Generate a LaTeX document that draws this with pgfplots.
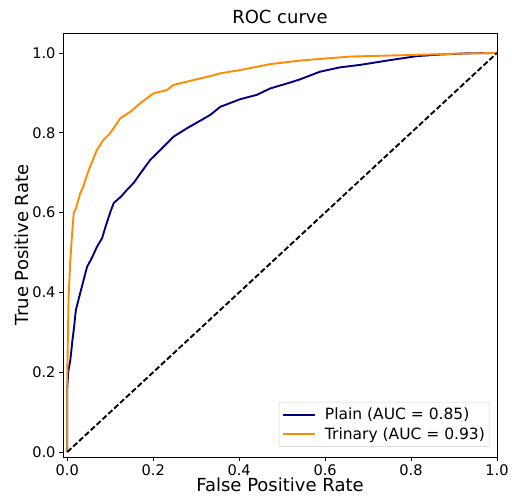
\documentclass[border=0pt]{standalone}
\usepackage{fontspec}
\setmainfont{DejaVu Sans}
\usepackage{pgfplots}
\pgfplotsset{compat=1.18}
\definecolor{navyc}{RGB}{0,0,128}
\definecolor{darkorangec}{RGB}{255,140,0}
\begin{document}
\begin{tikzpicture}
\begin{axis}[
  scale only axis,
  width=434bp, height=424bp,
  xmin=-0.01, xmax=1.0,
  ymin=-0.0125, ymax=1.05,
  xtick={0,0.2,0.4,0.6,0.8,1.0},
  ytick={0,0.2,0.4,0.6,0.8,1.0},
  xticklabel style={/pgf/number format/.cd,fixed,fixed zerofill,precision=1},
  yticklabel style={/pgf/number format/.cd,fixed,fixed zerofill,precision=1},
  /pgf/number format/assume math mode=true,
  tick label style={font=\fontsize{14.6bp}{17bp}\selectfont},
  label style={font=\fontsize{18bp}{21bp}\selectfont},
  title style={font=\fontsize{18bp}{21bp}\selectfont, at={(axis description cs:0.5,1)}, anchor=base, yshift=4bp},
  title={ROC curve},
  xlabel={False Positive Rate},
  ylabel={True Positive Rate},
  xlabel style={at={(axis description cs:0.5,-0.0825)}, anchor=base},
  ylabel style={at={(axis description cs:-0.0806,0.5)}, anchor=base},
  tick align=outside,
  xtick pos=bottom, ytick pos=left,
  major tick length=4bp,
  tick style={black, line width=0.8bp},
  axis line style={line width=0.8bp},
  legend style={at={(0.984,0.024)}, anchor=south east, draw=black!20, rounded corners=2bp,
    font=\fontsize{15.5bp}{18bp}\selectfont, inner xsep=3bp, inner ysep=4bp,
    row sep=2bp, column sep=7bp, nodes={inner sep=2bp}},
  legend cell align=left,
  legend image code/.code={\draw[#1] (0bp,0bp) -- (32bp,0bp);},
]
\addplot[color=navyc, line width=1.9bp] coordinates {
(0,0) (0,0.16) (0.002,0.2) (0.007,0.23) (0.012,0.28) (0.015,0.306) (0.02,0.356)
(0.03,0.398) (0.038,0.431) (0.046,0.464) (0.057,0.486) (0.069,0.514) (0.081,0.536)
(0.088,0.561) (0.1,0.601) (0.108,0.624) (0.125,0.64) (0.139,0.657) (0.155,0.675)
(0.17,0.698) (0.193,0.732) (0.224,0.765) (0.247,0.79) (0.278,0.811) (0.309,0.83)
(0.333,0.845) (0.356,0.865) (0.402,0.884) (0.441,0.895) (0.472,0.911) (0.519,0.926)
(0.542,0.934) (0.588,0.953) (0.635,0.964) (0.681,0.97) (0.751,0.982) (0.813,0.992)
(0.867,0.996) (0.93,0.999) (1,1)
};
\addlegendentry{Plain (AUC = 0.85)}
\addplot[color=darkorangec, line width=1.9bp] coordinates {
(0,0) (0,0.2) (0.001,0.264) (0.003,0.39) (0.007,0.48) (0.011,0.545) (0.015,0.6)
(0.02,0.61) (0.03,0.648) (0.038,0.667) (0.042,0.682) (0.053,0.715) (0.069,0.757)
(0.084,0.782) (0.1,0.799) (0.123,0.836) (0.147,0.853) (0.17,0.874) (0.201,0.899)
(0.232,0.907) (0.247,0.92) (0.278,0.928) (0.309,0.936) (0.333,0.942) (0.356,0.949)
(0.402,0.957) (0.472,0.972) (0.542,0.981) (0.658,0.991) (0.805,0.995) (0.9,0.998) (1,1)
};
\addlegendentry{Trinary (AUC = 0.93)}
\addplot[black, line width=1.9bp, dash pattern=on 5.5bp off 2.5bp, forget plot] coordinates {(0,0) (1,1)};
\end{axis}
\pgfresetboundingbox
\path[use as bounding box] (-63bp,-39bp) rectangle (449bp,457bp);
\end{tikzpicture}
\end{document}
